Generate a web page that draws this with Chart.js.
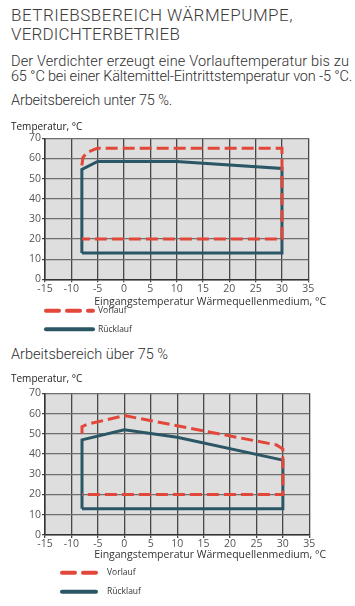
<!DOCTYPE html>
<html><head><meta charset="utf-8">
<script src="https://cdn.jsdelivr.net/npm/chart.js@4.4.0/dist/chart.umd.min.js"></script>
<style>
html,body{margin:0;padding:0;background:#fff;}
body{width:355px;height:606px;position:relative;overflow:hidden;font-family:Roboto,"Liberation Sans",sans-serif;}
.t{position:absolute;left:11px;white-space:nowrap;line-height:1;}
.h{font-size:17px;font-weight:300;color:#3c3c3c;}
.p{font-size:14.5px;font-weight:300;color:#2e2e2e;}
canvas{position:absolute;left:0;}
</style></head><body>
<div class="t h" style="top:7px" data-w="282">BETRIEBSBEREICH WÄRMEPUMPE,</div>
<div class="t h" style="top:25.5px" data-w="169">VERDICHTERBETRIEB</div>
<div class="t p" style="top:55px" data-w="338">Der Verdichter erzeugt eine Vorlauftemperatur bis zu</div>
<div class="t p" style="top:69.5px" data-w="341">65 °C bei einer Kältemittel-Eintrittstemperatur von -5 °C.</div>
<div class="t p" style="top:93.5px" data-w="161">Arbeitsbereich unter 75 %.</div>
<div class="t p" style="top:347.5px" data-w="157">Arbeitsbereich über 75 %</div>
<canvas id="c1" width="355" height="230" style="top:113px"></canvas>
<canvas id="c2" width="355" height="241" style="top:365px"></canvas>
<script>
// ---- data ----
const xMin = -15, xMax = 35, xStep = 5;
const yMin = 0, yMax = 70, yStep = 10;
const yAxisTitle = 'Temperatur, °C';
const xAxisTitle = 'Eingangstemperatur Wärmequellenmedium, °C';
const seriesNames = ['Vorlauf', 'Rücklauf'];

// Chart 1: Arbeitsbereich unter 75 %
const c1VorlaufX  = [-8, -7.8, -7, -5.5, -5, 30, 30, -8];
const c1VorlaufY  = [56.5, 60.5, 63, 64.6, 65, 65, 20, 20];
const c1RuecklaufX = [-8, -8, -5, 10, 30, 30, -8];
const c1RuecklaufY = [13, 54.5, 58.5, 58.5, 55, 13, 13];

// Chart 2: Arbeitsbereich über 75 %
const c2VorlaufX  = [-8, -8, -7, 0, 28.8, 30, 30, -8];
const c2VorlaufY  = [50, 53.5, 54.7, 59, 44.5, 42.5, 20, 20];
const c2RuecklaufX = [-8, -8, 0, 10, 30, 30, -8];
const c2RuecklaufY = [13, 47, 52, 48.3, 37, 13, 13];

// ---- text fitting ----
document.querySelectorAll('[data-w]').forEach(el => {
  const target = parseFloat(el.dataset.w);
  const w = el.getBoundingClientRect().width;
  const n = el.textContent.length;
  el.style.letterSpacing = ((target - w) / n) + 'px';
});

const RED = '#e2473a', TEAL = '#2b5665';
const FONT = '"Open Sans", "DejaVu Sans", sans-serif';

function pts(xs, ys) { return xs.map((x, i) => ({x: x, y: ys[i]})); }

function makeChart(id, vx, vy, rx, ry, L) {
  const bg = {
    id: 'bg',
    beforeDraw(chart) {
      const a = chart.chartArea, ctx = chart.ctx;
      ctx.save(); ctx.fillStyle = '#dedede';
      ctx.fillRect(a.left, a.top, a.right - a.left, a.bottom - a.top);
      ctx.restore();
    }
  };
  const overlay = {
    id: 'overlay',
    afterDraw(chart) {
      const a = chart.chartArea, ctx = chart.ctx;
      ctx.save();
      ctx.fillStyle = '#333';
      ctx.font = '10.5px ' + FONT;
      ctx.textAlign = 'right'; ctx.textBaseline = 'middle';
      ctx.fillText(xAxisTitle, L.xTitleRight, a.bottom + L.xTitleDy);
      const ds = chart.data.datasets;
      ds.forEach((d, i) => {
        const y = a.bottom + L.legendDy[i];
        ctx.strokeStyle = d.borderColor;
        ctx.lineWidth = 4;
        ctx.lineCap = 'round';
        ctx.setLineDash(i === 0 ? [13, 8] : []);
        ctx.beginPath();
        ctx.moveTo(L.legX0 + 2, y); ctx.lineTo(L.legX1 - 2, y);
        ctx.stroke();
        ctx.setLineDash([]);
        ctx.fillStyle = '#333';
        ctx.font = '8.5px ' + FONT;
        ctx.textAlign = 'left';
        ctx.fillText(d.label, L.legText, y);
      });
      ctx.restore();
    }
  };
  return new Chart(document.getElementById(id), {
    type: 'line',
    data: {
      datasets: [
        {label: seriesNames[0], data: pts(vx, vy), borderColor: RED, borderWidth: 3,
         borderDash: [12, 5], pointRadius: 0, fill: false, tension: 0},
        {label: seriesNames[1], data: pts(rx, ry), borderColor: TEAL, borderWidth: 3,
         pointRadius: 0, fill: false, tension: 0, borderJoinStyle: 'miter'}
      ]
    },
    options: {
      responsive: false, animation: false, devicePixelRatio: 1,
      layout: {padding: {left: 11, right: L.padRight, top: 0, bottom: 0}},
      plugins: {
        legend: {display: false}, tooltip: {enabled: false},
        title: {display: true, text: yAxisTitle, align: 'start', color: '#222',
                font: {family: FONT, size: 10, weight: 'normal'},
                padding: {top: L.titleTop, bottom: L.titleBottom}}
      },
      scales: {
        x: {type: 'linear', min: xMin, max: xMax,
            ticks: {stepSize: xStep, color: '#555', font: {family: FONT, size: 10.5}, padding: 0, maxRotation: 0},
            grid: {color: '#474747', lineWidth: 1.3, tickLength: 3, tickColor: '#444'},
            border: {color: '#333', width: 1.5},
            afterFit(s) { s.height = L.xHeight; }},
        y: {min: yMin, max: yMax,
            ticks: {stepSize: yStep, color: '#555', font: {family: FONT, size: 10.5}, padding: 1},
            grid: {color: '#6e6e6e', lineWidth: 1.3, tickLength: 3, tickColor: '#444'},
            border: {color: '#333', width: 1.5},
            afterFit(s) { s.width = 34; }}
      }
    },
    plugins: [bg, overlay]
  });
}

makeChart('c1', c1VorlaufX, c1VorlaufY, c1RuecklaufX, c1RuecklaufY, {
  padRight: 46.7, titleTop: 8, titleBottom: 5.3, xHeight: 63.7,
  xTitleRight: 326, xTitleDy: 22.4, legendDy: [31.4, 50], legX0: 44, legX1: 95, legText: 98
});
makeChart('c2', c2VorlaufX, c2VorlaufY, c2RuecklaufX, c2RuecklaufY, {
  padRight: 45.7, titleTop: 8.3, titleBottom: 8, xHeight: 71,
  xTitleRight: 326, xTitleDy: 20, legendDy: [37.7, 56.7], legX0: 60, legX1: 98, legText: 107
});
</script>
</body></html>
